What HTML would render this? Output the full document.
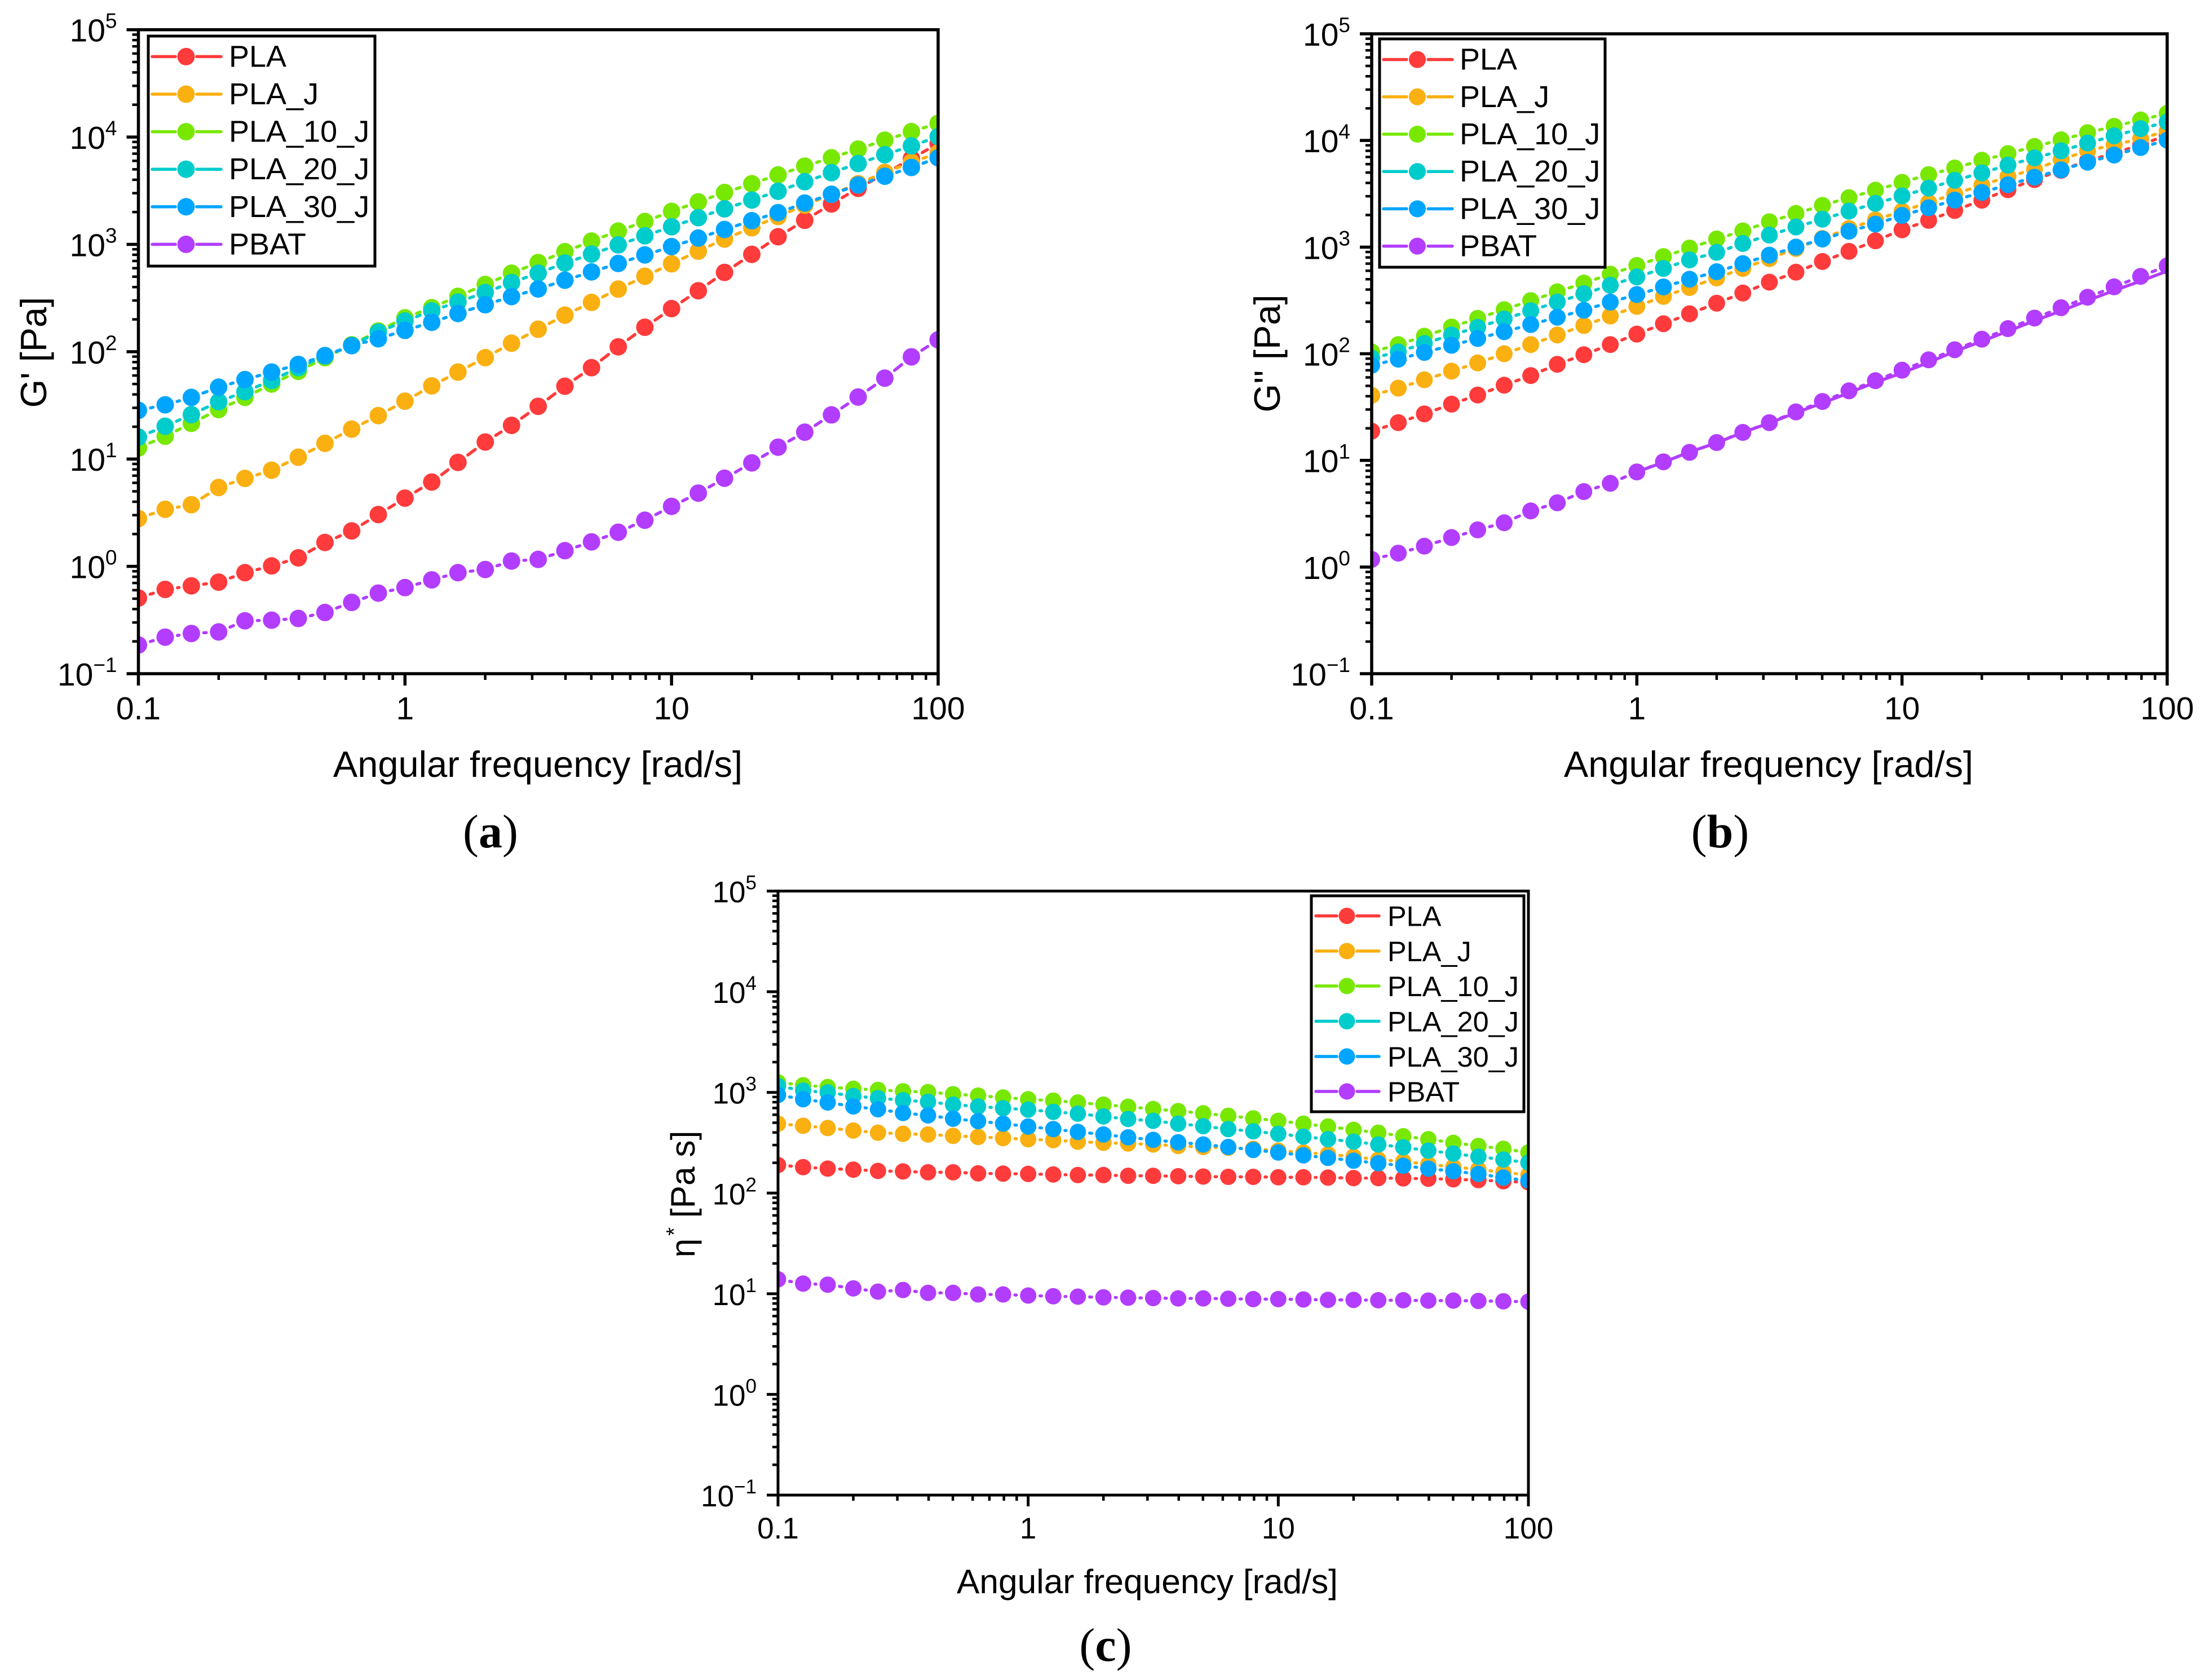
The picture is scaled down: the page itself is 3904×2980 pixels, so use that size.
<!DOCTYPE html>
<html lang="en">
<head>
<meta charset="utf-8">
<title>Rheology of PLA blends</title>
<style>
html,body{margin:0;padding:0;background:#fff;width:3904px;height:2980px;overflow:hidden}
svg{display:block;font-family:"Liberation Sans",Arial,sans-serif;fill:#000}
.cap{font-family:"Liberation Serif",serif;font-size:84px}
.ttl{font-size:65px}
.ttlc{font-size:60.5px}
.lg{font-size:54px}
.lgc{font-size:50.5px}
.box{fill:#fff;stroke:#000;stroke-width:5}
.boxc{fill:#fff;stroke:#000;stroke-width:5}
.sw{stroke-width:5.5;stroke-linecap:round}
</style>
</head>
<body>
<svg id="figure" xmlns="http://www.w3.org/2000/svg" width="3904" height="2980" viewBox="0 0 3904 2980">
  <rect width="3904" height="2980" fill="#fff"/>
  <g id="panel-a"></g>
  <g id="panel-b"></g>
  <g id="panel-c"></g>

  <!-- Panel a labels -->
  <text class="ttl" x="954" y="1378" text-anchor="middle">Angular frequency [rad/s]</text>
  <text class="ttl" transform="translate(82,625) rotate(-90)" text-anchor="middle">G' [Pa]</text>
  <text class="cap" x="870" y="1503" text-anchor="middle">(<tspan font-weight="700">a</tspan>)</text>
  <g>
    <rect class="box" x="263" y="64" width="402" height="408"/>
    <g transform="translate(0,100.4)"><line class="sw" stroke="#FF3B3B" x1="270" x2="311" y1="0" y2="0"/><line class="sw" stroke="#FF3B3B" x1="349" x2="392" y1="0" y2="0"/><circle fill="#FF3B3B" cx="330" cy="0" r="15.5"/><text class="lg" x="406" y="18">PLA</text></g>
    <g transform="translate(0,167)"><line class="sw" stroke="#FAB011" x1="270" x2="311" y1="0" y2="0"/><line class="sw" stroke="#FAB011" x1="349" x2="392" y1="0" y2="0"/><circle fill="#FAB011" cx="330" cy="0" r="15.5"/><text class="lg" x="406" y="18">PLA_J</text></g>
    <g transform="translate(0,233.6)"><line class="sw" stroke="#78E800" x1="270" x2="311" y1="0" y2="0"/><line class="sw" stroke="#78E800" x1="349" x2="392" y1="0" y2="0"/><circle fill="#78E800" cx="330" cy="0" r="15.5"/><text class="lg" x="406" y="18">PLA_10_J</text></g>
    <g transform="translate(0,300.2)"><line class="sw" stroke="#00CCCC" x1="270" x2="311" y1="0" y2="0"/><line class="sw" stroke="#00CCCC" x1="349" x2="392" y1="0" y2="0"/><circle fill="#00CCCC" cx="330" cy="0" r="15.5"/><text class="lg" x="406" y="18">PLA_20_J</text></g>
    <g transform="translate(0,366.8)"><line class="sw" stroke="#00A5FF" x1="270" x2="311" y1="0" y2="0"/><line class="sw" stroke="#00A5FF" x1="349" x2="392" y1="0" y2="0"/><circle fill="#00A5FF" cx="330" cy="0" r="15.5"/><text class="lg" x="406" y="18">PLA_30_J</text></g>
    <g transform="translate(0,433.4)"><line class="sw" stroke="#B23DFF" x1="270" x2="311" y1="0" y2="0"/><line class="sw" stroke="#B23DFF" x1="349" x2="392" y1="0" y2="0"/><circle fill="#B23DFF" cx="330" cy="0" r="15.5"/><text class="lg" x="406" y="18">PBAT</text></g>
  </g>

  <!-- Panel b labels -->
  <text class="ttl" x="3137" y="1378" text-anchor="middle">Angular frequency [rad/s]</text>
  <text class="ttl" transform="translate(2270,627) rotate(-90)" text-anchor="middle">G'' [Pa]</text>
  <text class="cap" x="3051" y="1503" text-anchor="middle">(<tspan font-weight="700">b</tspan>)</text>
  <g>
    <rect class="box" x="2447" y="69" width="400" height="405"/>
    <g transform="translate(0,105.6)"><line class="sw" stroke="#FF3B3B" x1="2454" x2="2495" y1="0" y2="0"/><line class="sw" stroke="#FF3B3B" x1="2533" x2="2576" y1="0" y2="0"/><circle fill="#FF3B3B" cx="2514" cy="0" r="15"/><text class="lg" x="2589" y="18">PLA</text></g>
    <g transform="translate(0,171.8)"><line class="sw" stroke="#FAB011" x1="2454" x2="2495" y1="0" y2="0"/><line class="sw" stroke="#FAB011" x1="2533" x2="2576" y1="0" y2="0"/><circle fill="#FAB011" cx="2514" cy="0" r="15"/><text class="lg" x="2589" y="18">PLA_J</text></g>
    <g transform="translate(0,238)"><line class="sw" stroke="#78E800" x1="2454" x2="2495" y1="0" y2="0"/><line class="sw" stroke="#78E800" x1="2533" x2="2576" y1="0" y2="0"/><circle fill="#78E800" cx="2514" cy="0" r="15"/><text class="lg" x="2589" y="18">PLA_10_J</text></g>
    <g transform="translate(0,304.2)"><line class="sw" stroke="#00CCCC" x1="2454" x2="2495" y1="0" y2="0"/><line class="sw" stroke="#00CCCC" x1="2533" x2="2576" y1="0" y2="0"/><circle fill="#00CCCC" cx="2514" cy="0" r="15"/><text class="lg" x="2589" y="18">PLA_20_J</text></g>
    <g transform="translate(0,370.4)"><line class="sw" stroke="#00A5FF" x1="2454" x2="2495" y1="0" y2="0"/><line class="sw" stroke="#00A5FF" x1="2533" x2="2576" y1="0" y2="0"/><circle fill="#00A5FF" cx="2514" cy="0" r="15"/><text class="lg" x="2589" y="18">PLA_30_J</text></g>
    <g transform="translate(0,436.6)"><line class="sw" stroke="#B23DFF" x1="2454" x2="2495" y1="0" y2="0"/><line class="sw" stroke="#B23DFF" x1="2533" x2="2576" y1="0" y2="0"/><circle fill="#B23DFF" cx="2514" cy="0" r="15"/><text class="lg" x="2589" y="18">PBAT</text></g>
  </g>

  <!-- Panel c labels -->
  <text class="ttlc" x="2035" y="2826" text-anchor="middle">Angular frequency [rad/s]</text>
  <text class="ttlc" transform="translate(1232,2118) rotate(-90)" text-anchor="middle">η<tspan font-size="38" dx="5" dy="-24">*</tspan><tspan dy="24"> [Pa s]</tspan></text>
  <text class="cap" x="1961" y="2946" text-anchor="middle">(<tspan font-weight="700">c</tspan>)</text>
  <g>
    <rect class="boxc" x="2326" y="1589" width="377" height="383"/>
    <g transform="translate(0,1624.6)"><line class="sw" stroke="#FF3B3B" x1="2334" x2="2371" y1="0" y2="0"/><line class="sw" stroke="#FF3B3B" x1="2407" x2="2446" y1="0" y2="0"/><circle fill="#FF3B3B" cx="2389" cy="0" r="14.5"/><text class="lgc" x="2461" y="18">PLA</text></g>
    <g transform="translate(0,1687)"><line class="sw" stroke="#FAB011" x1="2334" x2="2371" y1="0" y2="0"/><line class="sw" stroke="#FAB011" x1="2407" x2="2446" y1="0" y2="0"/><circle fill="#FAB011" cx="2389" cy="0" r="14.5"/><text class="lgc" x="2461" y="18">PLA_J</text></g>
    <g transform="translate(0,1749)"><line class="sw" stroke="#78E800" x1="2334" x2="2371" y1="0" y2="0"/><line class="sw" stroke="#78E800" x1="2407" x2="2446" y1="0" y2="0"/><circle fill="#78E800" cx="2389" cy="0" r="14.5"/><text class="lgc" x="2461" y="18">PLA_10_J</text></g>
    <g transform="translate(0,1811.5)"><line class="sw" stroke="#00CCCC" x1="2334" x2="2371" y1="0" y2="0"/><line class="sw" stroke="#00CCCC" x1="2407" x2="2446" y1="0" y2="0"/><circle fill="#00CCCC" cx="2389" cy="0" r="14.5"/><text class="lgc" x="2461" y="18">PLA_20_J</text></g>
    <g transform="translate(0,1874)"><line class="sw" stroke="#00A5FF" x1="2334" x2="2371" y1="0" y2="0"/><line class="sw" stroke="#00A5FF" x1="2407" x2="2446" y1="0" y2="0"/><circle fill="#00A5FF" cx="2389" cy="0" r="14.5"/><text class="lgc" x="2461" y="18">PLA_30_J</text></g>
    <g transform="translate(0,1936)"><line class="sw" stroke="#B23DFF" x1="2334" x2="2371" y1="0" y2="0"/><line class="sw" stroke="#B23DFF" x1="2407" x2="2446" y1="0" y2="0"/><circle fill="#B23DFF" cx="2389" cy="0" r="14.5"/><text class="lgc" x="2461" y="18">PBAT</text></g>
  </g>
</svg>

<script>
// ---- data ----
const frequencies = [0.1,0.126,0.158,0.2,0.251,0.316,0.398,0.501,0.631,0.794,1,1.26,1.58,2,2.51,3.16,3.98,5.01,6.31,7.94,10,12.6,15.8,20,25.1,31.6,39.8,50.1,63.1,79.4,100];
const xTickValues = [0.1,1,10,100];
const xTickLabels = ['0.1','1','10','100'];
const yTickExponents = [-1,0,1,2,3,4,5];
const yTickSuperscripts = ['\u22121','0','1','2','3','4','5'];
const minorMultipliers = [2,3,4,5,6,7,8,9];
const seriesNames = ['pla','pla-j','pla-10-j','pla-20-j','pla-30-j','pbat'];
const seriesColors = ['#FF3B3B','#FAB011','#78E800','#00CCCC','#00A5FF','#B23DFF'];

// G' storage modulus [Pa]
const storagePLA = [0.507,0.61,0.658,0.713,0.873,1.01,1.2,1.67,2.14,3.04,4.32,6.1,9.3,14.4,20.6,31,47.7,71,111,169,252,370,548,807,1178,1675,2380,3330,4550,6290,8700];
const storagePLAJ = [2.79,3.4,3.75,5.43,6.6,7.86,10.4,14,19,25.4,34.6,48,64.6,88,120,162,219,288,383,504,659,865,1120,1428,1820,2320,2930,3670,4690,5810,7100];
const storagePLA10J = [12.7,16.3,21.5,28.9,37.5,50,65.6,88,116,156,207,257,328,423,539,677,855,1073,1330,1634,2027,2488,3040,3673,4436,5356,6410,7720,9350,11230,13430];
const storagePLA20J = [16,20.2,25.9,34.2,42.4,54,71,91,114,152,193,240,290,356,441,539,670,811,989,1202,1460,1774,2145,2590,3125,3835,4655,5664,6843,8266,10090];
const storagePLA30J = [28.4,32,37.5,46.7,55,64.6,76,92,114,132,158,188,227,274,326,384,463,554,664,797,953,1145,1375,1662,1975,2425,2930,3575,4315,5210,6410];
const storagePBAT = [0.185,0.219,0.237,0.245,0.311,0.315,0.327,0.372,0.462,0.563,0.634,0.748,0.873,0.935,1.12,1.16,1.4,1.69,2.08,2.69,3.62,4.81,6.62,9.2,12.9,17.8,25.8,37.8,56.7,89.5,129];

// G'' loss modulus [Pa]
const lossPLA = [18.8,22.6,27.3,33.7,41,50.7,62.4,79.6,98,122,153,191,237,298,371,469,582,733,912,1147,1452,1782,2203,2755,3456,4300,5250,6450,7600,9100,11200];
const lossPLAJ = [40.8,47.6,57,68.7,82,100,122,150,184,226,278,345,418,514,630,780,970,1205,1496,1804,2174,2618,3155,3802,4581,5350,6630,8000,9100,10400,12300];
const lossPLA10J = [104,122,146,178,215,259,315,381,460,557,673,815,980,1192,1419,1727,2068,2460,2910,3420,4045,4786,5520,6530,7530,8790,10140,11840,13570,15570,17950];
const lossPLA20J = [91,104,125,150,177,212,253,306,365,439,525,631,759,893,1081,1297,1545,1828,2174,2570,3020,3574,4226,4966,5874,6860,8000,9460,11050,12900,14900];
const lossPLA30J = [78,89,103,120,139,161,188,220,256,305,359,423,500,588,700,841,1000,1190,1408,1644,1983,2340,2756,3256,3844,4520,5308,6248,7300,8570,10070];
const lossPBAT = [1.18,1.35,1.57,1.89,2.23,2.6,3.36,4,5.1,6.1,7.8,9.7,11.9,14.7,18.3,22.6,28.5,35.7,44.9,55.9,70.2,87.7,109,137,172,216,270,339,424,532,667];
// a second continuous PBAT trace that starts at the 11th frequency
const lossPBATTraceFrequencies = [1,1.26,1.58,2,2.51,3.16,3.98,5.01,6.31,7.94,10,12.6,15.8,20,25.1,31.6,39.8,50.1,63.1,79.4,100];
const lossPBATTrace = [7.8,9.6,12,14.6,18.3,22.4,28,34.5,43,54,66,83,105,131,163,204,252,315,392,480,595];

// complex viscosity [Pa s]
const viscosityPLA = [190,181,175,171,166,164,161,161,157,156,155,153,151,151,148.5,148.5,147,146,145,145,143.6,143.6,142.5,141,141,140,139,137,134.5,131,128];
const viscosityPLAJ = [489,466,443,418,398,388,382,370,361,352,343,335,324,316,311,304,294,287,282,275,264,253,243,230,215,206,193,182,172,161,151];
const viscosityPLA10J = [1259,1179,1132,1086,1060,1026,1008,960,929,891,855,828,794,756,720,685,652,620,586,553,522,489,458,425,398,367,343,316,294,275,253];
const viscosityPLA20J = [1159,1042,1000,921,877,835,807,756,726,696,674,641,615,577,544,522,489,462,432,411,388,364,343,324,304,285,264,247,230,215,201];
const viscosityPLA30J = [944,855,794,726,680,625,591,548,518,489,458,432,405,382,358,338,319,304,287,268,253,237,224,210,198,187,175,165,155,142.5,133];
const viscosityPBAT = [13.9,12.6,12.3,11.3,10.5,10.9,10.2,10.2,9.84,9.84,9.6,9.44,9.36,9.21,9.14,9.06,8.99,8.99,8.92,8.84,8.84,8.77,8.69,8.69,8.62,8.62,8.55,8.55,8.49,8.42,8.34];

// ---- drawing ----
const NS = 'http://www.w3.org/2000/svg';
function make(tag, attrs, parent) {
  const el = document.createElementNS(NS, tag);
  for (const k in attrs) el.setAttribute(k, attrs[k]);
  parent.appendChild(el);
  return el;
}

function drawPanel(cfg) {
  const root = document.getElementById(cfg.id);
  const xScale = v => cfg.left + (Math.log10(v) + 1) / 3 * (cfg.right - cfg.left);
  const yScale = v => cfg.bottom - (Math.log10(v) + 1) / 6 * (cfg.bottom - cfg.top);

  const clipId = cfg.id + '-clip';
  const defs = make('defs', {}, root);
  const clip = make('clipPath', { id: clipId }, defs);
  make('rect', { x: cfg.left, y: cfg.top, width: cfg.right - cfg.left, height: cfg.bottom - cfg.top }, clip);

  const plot = make('g', { 'clip-path': 'url(#' + clipId + ')' }, root);
  
  

  if (cfg.trace) {
    const d = cfg.trace.values.map((v, i) => (i ? 'L' : 'M') + xScale(cfg.trace.x[i]).toFixed(1) + ' ' + yScale(v).toFixed(1)).join(' ');
    const tr = make('path', { d: d, fill: 'none', stroke: seriesColors[5], 'stroke-width': 5.5, 'stroke-linejoin': 'round' }, plot);
    
    
  }

  cfg.series.forEach((vals, s) => {
    const g = make('g', {}, plot);
    
    
    const pts = vals.map((v, i) => [xScale(frequencies[i]), yScale(v)]);
    for (let i = 0; i < pts.length - 1; i++) {
      const dx = pts[i + 1][0] - pts[i][0], dy = pts[i + 1][1] - pts[i][1];
      const len = Math.hypot(dx, dy);
      if (len <= cfg.trim * 2) continue;
      const ux = dx / len, uy = dy / len;
      const seg = make('line', {
        x1: (pts[i][0] + ux * cfg.trim).toFixed(1), y1: (pts[i][1] + uy * cfg.trim).toFixed(1),
        x2: (pts[i + 1][0] - ux * cfg.trim).toFixed(1), y2: (pts[i + 1][1] - uy * cfg.trim).toFixed(1),
        stroke: seriesColors[s], 'stroke-width': 5.5, 'stroke-linecap': 'round'
      }, g);
      
      
    }
    pts.forEach(p => {
      const c = make('circle', { cx: p[0].toFixed(1), cy: p[1].toFixed(1), r: cfg.r, fill: seriesColors[s] }, g);
      
      
    });
  });

  // frame
  const frame = make('rect', { x: cfg.left, y: cfg.top, width: cfg.right - cfg.left, height: cfg.bottom - cfg.top, fill: 'none', stroke: '#000', 'stroke-width': cfg.sw }, root);
  
  

  // y ticks
  yTickExponents.forEach((e, k) => {
    const v = Math.pow(10, e), y = yScale(v);
    const t = make('line', { x1: cfg.left - cfg.major, x2: cfg.left, y1: y, y2: y, stroke: '#000', 'stroke-width': cfg.sw }, root);
    
    
    const lab = make('text', { x: cfg.left - 38, y: y + cfg.yBase, 'text-anchor': 'end', 'font-size': cfg.tickFont }, root);
    
    
    lab.appendChild(document.createTextNode('10'));
    const sup = make('tspan', { 'font-size': cfg.supFont, dy: -cfg.supRise }, lab);
    sup.textContent = yTickSuperscripts[k];
    if (e < 5) minorMultipliers.forEach(m => {
      const ym = yScale(v * m);
      const mt = make('line', { x1: cfg.left - cfg.minor, x2: cfg.left, y1: ym, y2: ym, stroke: '#000', 'stroke-width': 4.5 }, root);
      
      
    });
  });

  // x ticks
  xTickValues.forEach((v, k) => {
    const x = xScale(v);
    const t = make('line', { x1: x, x2: x, y1: cfg.bottom, y2: cfg.bottom + cfg.major, stroke: '#000', 'stroke-width': cfg.sw }, root);
    
    
    const lab = make('text', { x: x, y: cfg.bottom + cfg.xBase, 'text-anchor': 'middle', 'font-size': cfg.tickFont }, root);
    
    
    lab.textContent = xTickLabels[k];
    if (k < xTickValues.length - 1) minorMultipliers.forEach(m => {
      const xm = xScale(v * m);
      const mt = make('line', { x1: xm, x2: xm, y1: cfg.bottom, y2: cfg.bottom + cfg.minor, stroke: '#000', 'stroke-width': 4.5 }, root);
      
      
    });
  });
}

drawPanel({ id: 'panel-a', left: 245.5, right: 1664, top: 52.7, bottom: 1195, r: 15.5, trim: 22, sw: 5.5, major: 21, minor: 11, tickFont: 57, supFont: 37, supRise: 24, yBase: 21, xBase: 81,
  series: [storagePLA, storagePLAJ, storagePLA10J, storagePLA20J, storagePLA30J, storagePBAT] });
drawPanel({ id: 'panel-b', left: 2433, right: 3844, top: 60, bottom: 1195, r: 15, trim: 22, sw: 5.5, major: 21, minor: 11, tickFont: 57, supFont: 37, supRise: 24, yBase: 21, xBase: 81,
  series: [lossPLA, lossPLAJ, lossPLA10J, lossPLA20J, lossPLA30J, lossPBAT],
  trace: { x: lossPBATTraceFrequencies, values: lossPBATTrace } });
drawPanel({ id: 'panel-c', left: 1380, right: 2711, top: 1580.6, bottom: 2652, r: 14.5, trim: 21, sw: 5, major: 20, minor: 10, tickFont: 53, supFont: 35, supRise: 23, yBase: 20, xBase: 77,
  series: [viscosityPLA, viscosityPLAJ, viscosityPLA10J, viscosityPLA20J, viscosityPLA30J, viscosityPBAT] });

// panels are appended before the legends in document order, so legends stay on top
</script>
</body>
</html>
